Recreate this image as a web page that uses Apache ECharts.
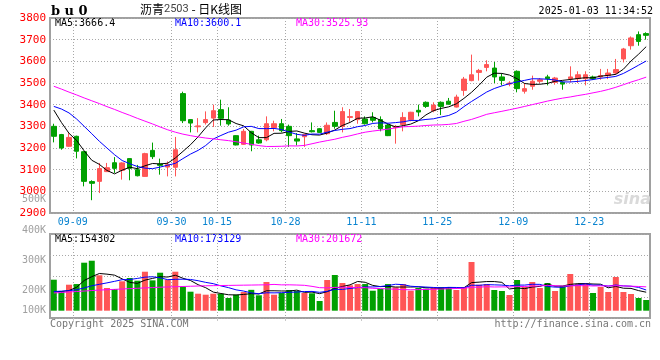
<!DOCTYPE html>
<html><head><meta charset="utf-8">
<script src="https://cdn.jsdelivr.net/npm/echarts@6/dist/echarts.min.js"></script>
<style>html,body{margin:0;padding:0;background:#fff}#c{width:660px;height:360px}</style>
</head><body><div id="c"></div>
<script>
// ---------------- data ----------------
const dates = ['09-05','09-06','09-09','09-10','09-11','09-12','09-13','09-18','09-19','09-20',
 '09-23','09-24','09-25','09-26','09-27','09-30','10-08','10-09','10-10','10-11',
 '10-14','10-15','10-16','10-17','10-18','10-21','10-22','10-23','10-24','10-25',
 '10-28','10-29','10-30','10-31','11-01','11-04','11-05','11-06','11-07','11-08',
 '11-11','11-12','11-13','11-14','11-15','11-18','11-19','11-20','11-21','11-22',
 '11-25','11-26','11-27','11-28','11-29','12-02','12-03','12-04','12-05','12-06',
 '12-09','12-10','12-11','12-12','12-13','12-16','12-17','12-18','12-19','12-20',
 '12-23','12-24','12-25','12-26','12-27','12-30','12-31','01-02','01-03'];
const labeledDates = ['09-09','09-30','10-15','10-28','11-11','11-25','12-09','12-23'];

const opens = [3300,3262,3208,3254,3183,3045,3046,3091,3132,3097,
 3151,3100,3069,3189,3126,3112,3111,3451,3331,3298,
 3317,3338,3377,3329,3257,3217,3277,3238,3238,3294,
 3312,3300,3242,3252,3280,3289,3266,3318,3300,3341,
 3331,3334,3341,3331,3306,3294,3308,3331,3374,3411,
 3372,3411,3416,3389,3466,3511,3549,3572,3569,3528,
 3495,3554,3462,3485,3508,3528,3503,3503,3520,3520,
 3520,3528,3528,3534,3546,3611,3672,3723,3728];
const closes = [3254,3200,3249,3185,3046,3037,3105,3109,3106,3131,
 3106,3072,3174,3160,3120,3123,3192,3326,3315,3302,
 3331,3372,3337,3311,3214,3277,3214,3223,3312,3312,
 3280,3257,3232,3262,3275,3272,3305,3300,3368,3345,
 3368,3312,3328,3289,3257,3300,3341,3365,3366,3392,
 3398,3392,3402,3435,3518,3538,3558,3585,3528,3512,
 3500,3474,3474,3508,3515,3520,3523,3495,3528,3538,
 3538,3520,3534,3546,3562,3657,3708,3692,3720];
const lows = [3226,3192,3206,3152,3023,2959,2992,3089,3085,3054,
 3051,3069,3068,3149,3077,3069,3069,3315,3272,3272,
 3308,3297,3303,3303,3212,3215,3185,3220,3231,3277,
 3272,3205,3212,3205,3272,3269,3260,3289,3272,3321,
 3312,3308,3318,3277,3255,3220,3277,3323,3346,3385,
 3365,3352,3400,3387,3441,3508,3511,3554,3500,3489,
 3485,3457,3451,3469,3500,3489,3492,3469,3503,3500,
 3489,3515,3515,3518,3538,3595,3654,3672,3700];
const highs = [3312,3265,3269,3257,3185,3051,3131,3131,3158,3134,
 3152,3122,3178,3225,3151,3138,3251,3460,3333,3338,
 3369,3400,3423,3388,3259,3288,3279,3257,3346,3326,
 3334,3308,3269,3266,3318,3292,3318,3372,3388,3380,
 3370,3346,3365,3346,3312,3306,3365,3367,3400,3415,
 3411,3415,3431,3446,3528,3631,3565,3605,3597,3543,
 3508,3558,3500,3534,3523,3538,3528,3508,3577,3554,
 3554,3534,3565,3565,3611,3662,3715,3738,3734];
const volumes = [258600,161500,216800,222400,400500,417000,295400,189300,180900,245300,
 272700,250400,325300,253200,316900,258600,325300,200200,158500,141800,
 133400,141800,141800,105800,133400,155700,174000,128400,239400,133400,
 147600,172600,164300,147600,145100,80900,256000,297700,231000,211800,
 222400,222400,166800,180900,222400,195200,222400,166800,189300,183500,
 189300,197700,197700,172600,197700,406200,216800,222400,172600,164300,
 130900,256000,197700,239400,189300,231000,164300,206000,306100,222400,
 231000,147600,197700,156000,281000,156000,139300,105900,89200];

// moving-average values at the start of the window (their inputs lie before the chart)
const ma5Lead = [3375,3318,3268,3235];
const ma10Lead = [3392,3380,3362,3334,3300,3266,3231,3200,3169];
const ma30Lead = [3485,3472,3458,3445,3431,3418,3405,3391,3378,3364,3351,3337,3324,3311,3297,
 3284,3273,3264,3257,3251,3246,3242,3238,3234,3229,3223,3217,3211,3207];
const volMa5Lead = [158000,160000,168000,195000];
const volMa10Lead = [160000,163000,167000,175000,190000,208000,220000,232000,245000];
const volMa30Lead = [148000,152000,156000,160000,164000,168000,172000,175000,178000,181000,
 184000,187000,190000,193000,196000,198000,200000,202000,204000,206000,208000,209000,210000,
 211000,212000,213000,214000,215000,216000];

const priceLegend = ['MA5:3666.4','MA10:3600.1','MA30:3525.93'];
const volLegend = ['MA5:154302','MA10:173129','MA30:201672'];
const volTickLabels = ['500K','400K','300K','200K','100K'];
const titleCode = 'b u 0';
const titleName = '沥青', titleContract = '2503', titleSuffix = ' - 日K线图';
const timeStamp = '2025-01-03 11:34:52';
const footerLeft = 'Copyright 2025 SINA.COM';
const footerRight = 'http://finance.sina.com.cn';

// ---------------- helpers ----------------
function movingAvg(arr, n, lead) {
  return arr.map((v, i) => {
    if (i < n - 1) return lead[i];
    let s = 0; for (let k = i - n + 1; k <= i; k++) s += arr[k];
    return +(s / n).toFixed(2);
  });
}
const ma5 = movingAvg(closes, 5, ma5Lead);
const ma10 = movingAvg(closes, 10, ma10Lead);
const ma30 = movingAvg(closes, 30, ma30Lead);
const vma5 = movingAvg(volumes, 5, volMa5Lead);
const vma10 = movingAvg(volumes, 10, volMa10Lead);
const vma30 = movingAvg(volumes, 30, volMa30Lead);

const boundaries = Array.from({length: dates.length + 1}, (_, j) =>
  (j > 0 && labeledDates.includes(dates[j - 1])) ? dates[j - 1] : '');
const isLabeled = (i, v) => v !== '';

const UP = '#FF5555', DOWN = '#00A000';
const GRIDC = '#A8A8A8';
const MONO = '"DejaVu Sans Mono", monospace';
const dotted = {color: GRIDC, width: 1, type: [1, 2]};

const chart = echarts.init(document.getElementById('c'), null, {renderer: 'canvas'});

const lineS = (name, data, color, xi, yi) => ({
  name, type: 'line', data, xAxisIndex: xi, yAxisIndex: yi, showSymbol: false, symbol: 'none',
  lineStyle: {color, width: 1}, itemStyle: {color}, silent: true, z: 5
});

const gtext = (o) => Object.assign({type: 'text', silent: true}, o);

chart.setOption({
  animation: false,
  backgroundColor: '#fff',
  grid: [
    {left: 50, top: 18, width: 600, height: 195, show: true, borderColor: '#A0A0A0', borderWidth: 2},
    {left: 50, top: 234, width: 600, height: 84, show: true, borderColor: '#A0A0A0', borderWidth: 2}
  ],
  xAxis: [
    {type: 'category', gridIndex: 0, data: dates, boundaryGap: true,
     axisLine: {show: false}, axisTick: {show: false}, axisLabel: {show: false}, splitLine: {show: false}},
    {type: 'category', gridIndex: 0, data: boundaries, boundaryGap: false, position: 'bottom',
     axisLine: {show: false}, axisTick: {show: false},
     axisLabel: {show: true, interval: isLabeled, color: '#0A84D0', fontFamily: MONO, fontSize: 10, margin: 4, hideOverlap: false},
     splitLine: {show: true, interval: isLabeled, lineStyle: dotted}},
    {type: 'category', gridIndex: 1, data: dates, boundaryGap: true,
     axisLine: {show: false}, axisTick: {show: false}, axisLabel: {show: false}, splitLine: {show: false}},
    {type: 'category', gridIndex: 1, data: boundaries, boundaryGap: false, position: 'bottom',
     axisLine: {show: false}, axisLabel: {show: false},
     axisTick: {show: true, interval: isLabeled, length: 3, lineStyle: {color: '#C8C8C8'}},
     splitLine: {show: true, interval: isLabeled, lineStyle: dotted}}
  ],
  yAxis: [
    {type: 'value', gridIndex: 0, min: 2900, max: 3800, interval: 100, scale: false,
     axisLine: {show: false}, axisTick: {show: false},
     axisLabel: {color: '#FF0000', fontFamily: MONO, fontSize: 11, margin: 4, formatter: v => String(v)},
     splitLine: {show: true, lineStyle: dotted}},
    {type: 'value', gridIndex: 1, min: -61000, max: 640000, show: false, splitLine: {show: false}},
    {type: 'value', gridIndex: 1, min: 0, max: 4, interval: 1,
     axisLine: {show: false}, axisTick: {show: false}, axisLabel: {show: false},
     splitLine: {show: true, lineStyle: dotted}}
  ],
  series: [
    {name: 'K', type: 'candlestick', xAxisIndex: 0, yAxisIndex: 0, barWidth: 5, silent: true,
     data: dates.map((d, i) => [opens[i], closes[i], lows[i], highs[i]]),
     itemStyle: {color: UP, color0: DOWN, borderColor: UP, borderColor0: DOWN, borderWidth: 1}},
    lineS('MA5', ma5, '#000000', 0, 0),
    lineS('MA10', ma10, '#0000FF', 0, 0),
    lineS('MA30', ma30, '#FF00FF', 0, 0),
    {name: 'VOL', type: 'bar', xAxisIndex: 2, yAxisIndex: 1, barWidth: 6, silent: true,
     data: volumes,
     itemStyle: {color: p => closes[p.dataIndex] >= opens[p.dataIndex] ? UP : DOWN}},
    lineS('VMA5', vma5, '#000000', 2, 1),
    lineS('VMA10', vma10, '#0000FF', 2, 1),
    lineS('VMA30', vma30, '#FF00FF', 2, 1)
  ],
  graphic: [
    gtext({left: 51, top: 5, style: {text: titleCode, font: 'bold 13px "DejaVu Serif"', fill: '#000'}}),
    gtext({left: 140, top: 3, style: {
      text: '{a|' + titleName + '}{b|' + titleContract + '}{a|' + titleSuffix + '}',
      rich: {a: {font: '12px "Noto Sans CJK SC"', fill: '#000'}, b: {font: '11px Roboto', fill: '#444'}}}}),
    gtext({right: 7, top: 6, style: {text: timeStamp, font: '10px ' + MONO, fill: '#000'}}),
    gtext({left: 55, top: 18, style: {text: priceLegend[0], font: '10px ' + MONO, fill: '#000'}}),
    gtext({left: 175, top: 18, style: {text: priceLegend[1], font: '10px ' + MONO, fill: '#0000FF'}}),
    gtext({left: 296, top: 18, style: {text: priceLegend[2], font: '10px ' + MONO, fill: '#FF00FF'}}),
    gtext({left: 55, top: 234, style: {text: volLegend[0], font: '10px ' + MONO, fill: '#000'}}),
    gtext({left: 175, top: 234, style: {text: volLegend[1], font: '10px ' + MONO, fill: '#0000FF'}}),
    gtext({left: 296, top: 234, style: {text: volLegend[2], font: '10px ' + MONO, fill: '#FF00FF'}}),
    gtext({right: 614, top: 194, style: {text: volTickLabels[0], font: '10px ' + MONO, fill: '#A0A0A0'}}),
    gtext({right: 614, top: 225, style: {text: volTickLabels[1], font: '10px ' + MONO, fill: '#A0A0A0'}}),
    gtext({right: 614, top: 255, style: {text: volTickLabels[2], font: '10px ' + MONO, fill: '#A0A0A0'}}),
    gtext({right: 614, top: 285, style: {text: volTickLabels[3], font: '10px ' + MONO, fill: '#A0A0A0'}}),
    gtext({right: 614, top: 305, style: {text: volTickLabels[4], font: '10px ' + MONO, fill: '#A0A0A0'}}),
    gtext({left: 50, top: 319, style: {text: footerLeft, font: '10px ' + MONO, fill: '#777'}}),
    gtext({right: 9, top: 319, style: {text: footerRight, font: '10px ' + MONO, fill: '#777'}}),
    gtext({right: 9, top: 192, style: {text: 'sina', font: 'italic bold 16px "DejaVu Sans"', fill: '#DADADA'}})
  ]
});
</script>
</body></html>
